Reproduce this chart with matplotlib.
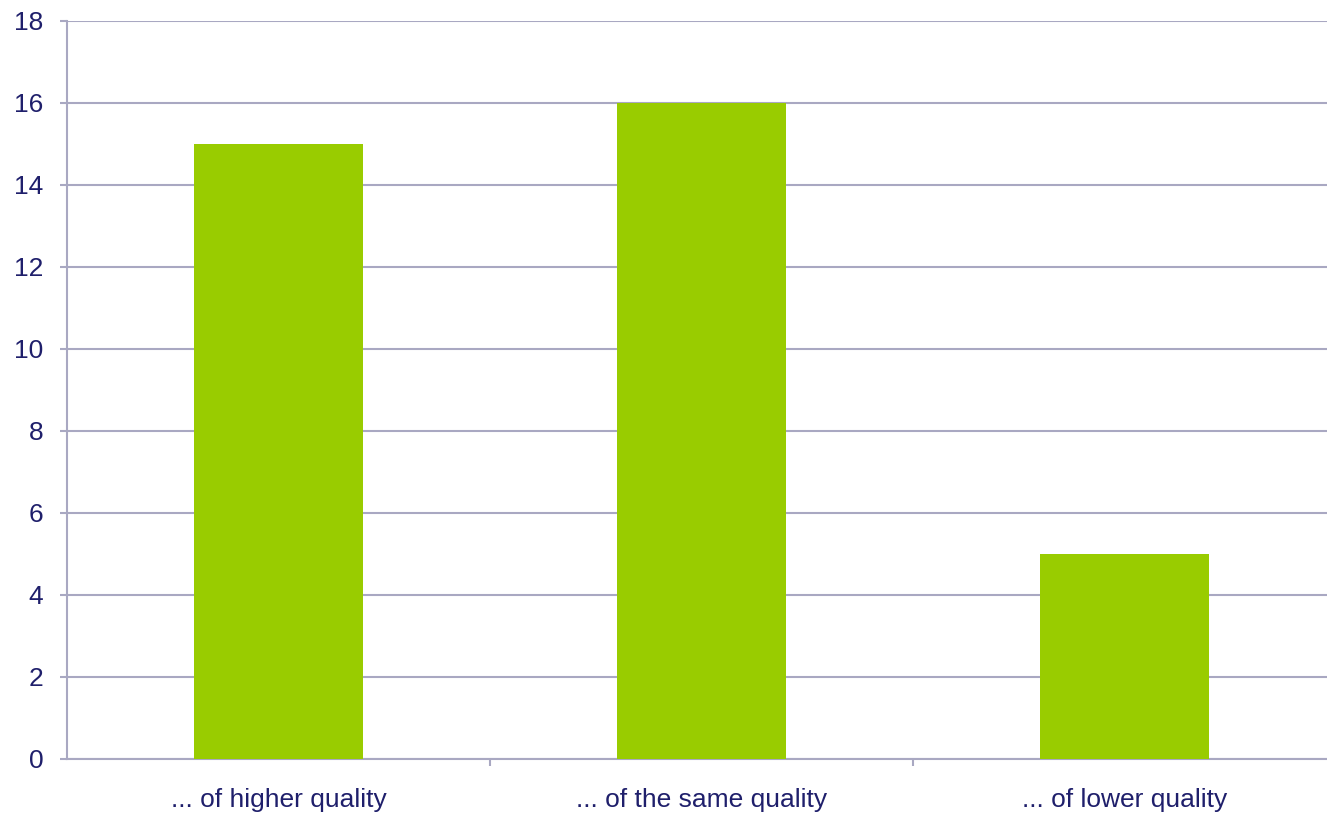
import matplotlib
matplotlib.use("Agg")
import matplotlib.pyplot as plt
import numpy as np

categories = ["... of higher quality", "... of the same quality", "... of lower quality"]
values = [15, 16, 5]
yticks = [0, 2, 4, 6, 8, 10, 12, 14, 16, 18]

plt.rcParams['font.family'] = ['Liberation Sans', 'DejaVu Sans']
W, H = 1327, 818
fig = plt.figure(figsize=(W/100, H/100), dpi=100)
fig.patch.set_facecolor('white')
ax = fig.add_axes([67/W, (H-759)/H, 1269/W, (759-21)/H])

grid_c = '#A9A8C2'
text_c = '#1F1F6B'
x = np.arange(len(categories))
ax.bar(x, values, width=0.4, color='#99CC00', zorder=3)
ax.set_xlim(-0.5, 2.5)
ax.set_ylim(0, 18)
ax.set_yticks(yticks)
ax.set_yticklabels([str(t) for t in yticks], fontsize=19, color=text_c)
ax.yaxis.grid(True, color=grid_c, linewidth=1.5, zorder=0)
ax.set_xticks(x)
ax.set_xticklabels(categories, fontsize=19, color=text_c)
ax.tick_params(axis='x', length=0, pad=21)
ax.set_xticks([0.5, 1.5], minor=True)
ax.tick_params(axis='x', which='minor', length=5, color=grid_c, width=1.5)
ax.tick_params(axis='y', length=5, color=grid_c, width=1.5, pad=12)
for s in ['top', 'right']:
    ax.spines[s].set_visible(False)
for s in ['left', 'bottom']:
    ax.spines[s].set_color(grid_c)
    ax.spines[s].set_linewidth(1.5)
ax.set_facecolor('none')
fig.savefig('out.png', dpi=100)
